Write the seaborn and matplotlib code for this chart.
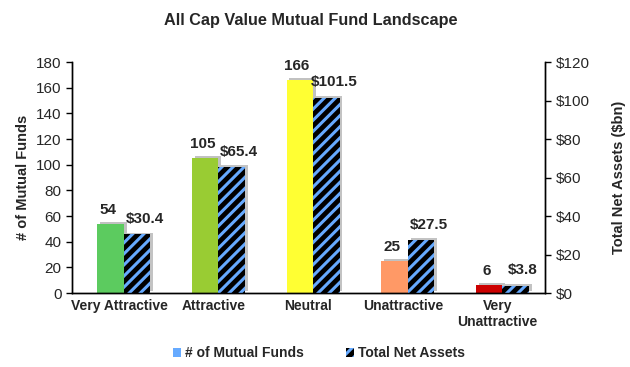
import matplotlib
matplotlib.use("Agg")
import matplotlib.pyplot as plt
import matplotlib.patheffects as pe
from matplotlib.patches import Patch
import numpy as np
import pandas as pd
import seaborn as sns

# data
categories = ["Very Attractive", "Attractive", "Neutral", "Unattractive", "Very\nUnattractive"]
num_funds = [54, 105, 166, 25, 6]
net_assets = [30.4, 65.4, 101.5, 27.5, 3.8]
bar_colors = ["#5CCB5F", "#99CC33", "#FFFF33", "#FF9966", "#CC0000"]

sns.set_theme(style="white")
plt.rcParams["font.family"] = ["Liberation Sans", "DejaVu Sans"]
plt.rcParams["hatch.linewidth"] = 2.2
plt.rcParams["hatch.color"] = "#66AAFF"

df = pd.DataFrame({"cat": categories, "funds": num_funds, "assets": net_assets})

fig = plt.figure(figsize=(6.3, 3.67), dpi=100)
ax1 = fig.add_axes([0.114, 0.2016, 0.751, 0.6294])
ax2 = ax1.twinx()

bw = 0.28
left_shift = -0.23
right_shift = 0.05
shadow = [pe.SimplePatchShadow(offset=(2, 1.5), shadow_rgbFace="#999999", alpha=0.6), pe.Normal()]

sns.barplot(data=df, x="cat", y="funds", hue="cat", palette=bar_colors, legend=False,
            width=bw, ax=ax1, saturation=1, linewidth=0)
for p in ax1.patches:
    p.set_x(p.get_x() + bw / 2 + left_shift)
    p.set_path_effects(shadow)

# soft gray shadow for the hatched bars, then the bars themselves
sns.barplot(data=df, x="cat", y="assets", color="#AAAAAA", width=bw, ax=ax2,
            saturation=1, linewidth=0, alpha=0.7)
n = len(categories)
for p in ax2.patches[:n]:
    p.set_x(p.get_x() + bw / 2 + right_shift + 0.03)
    p.set_y(1.0)
sns.barplot(data=df, x="cat", y="assets", color="black", width=bw, ax=ax2,
            saturation=1, linewidth=0)
for p in ax2.patches[n:]:
    p.set_x(p.get_x() + bw / 2 + right_shift)
    p.set_hatch("///")
    p.set_edgecolor("#66AAFF")
    p.set_linewidth(0)

# labels
for i, v in enumerate(num_funds):
    ax1.annotate(f"{v}", (i - 0.12, v), xytext=(0, 5), textcoords="offset points",
                 ha="center", va="bottom", fontsize=11, fontweight="bold")
for i, v in enumerate(net_assets):
    ax2.annotate(f"${v}", (i + 0.27, v), xytext=(0, 6), textcoords="offset points",
                 ha="center", va="bottom", fontsize=11, fontweight="bold")

ax1.set_ylim(0, 180)
ax1.set_yticks(range(0, 181, 20))
ax2.set_ylim(0, 120)
ax2.set_yticks(range(0, 121, 20))
ax2.set_yticklabels([f"${t}" for t in range(0, 121, 20)])
ax1.set_xlim(-0.5, 4.5)

ax1.set_xlabel("")
ax1.set_ylabel("# of Mutual Funds", fontsize=10.5, fontweight="bold")
ax2.set_ylabel("Total Net Assets ($bn)", fontsize=10.5, fontweight="bold", labelpad=16)
ax1.set_xticks(range(5))
ax1.set_xticklabels(categories, fontsize=10, fontweight="bold")
ax1.set_xticks(np.arange(-0.5, 5, 1), minor=True)
ax1.tick_params(axis="x", which="major", length=0, pad=4)
ax1.tick_params(axis="x", which="minor", length=5, width=1, color="black", direction="out")
ax1.tick_params(axis="y", length=4, width=1, color="black", direction="out", labelsize=11)
ax2.tick_params(axis="y", length=4, width=1, color="black", direction="out", labelsize=11)

for ax in (ax1, ax2):
    ax.spines["top"].set_visible(False)
    for s in ("left", "right", "bottom"):
        ax.spines[s].set_color("black")
        ax.spines[s].set_linewidth(1)

fig.suptitle("All Cap Value Mutual Fund Landscape", x=0.494, y=0.965, fontsize=11.7, fontweight="bold")

handles = [Patch(facecolor="#66AAFF", edgecolor="none", label="# of Mutual Funds"),
           Patch(facecolor="black", edgecolor="#66AAFF", hatch="///", linewidth=0, label="Total Net Assets")]
fig.legend(handles=handles, loc="lower center", bbox_to_anchor=(0.506, -0.015), ncol=2, frameon=False,
           prop={"weight": "bold", "size": 10}, handlelength=0.6, handleheight=0.6,
           handletextpad=0.3, columnspacing=3)

fig.savefig("out.png", dpi=100)
